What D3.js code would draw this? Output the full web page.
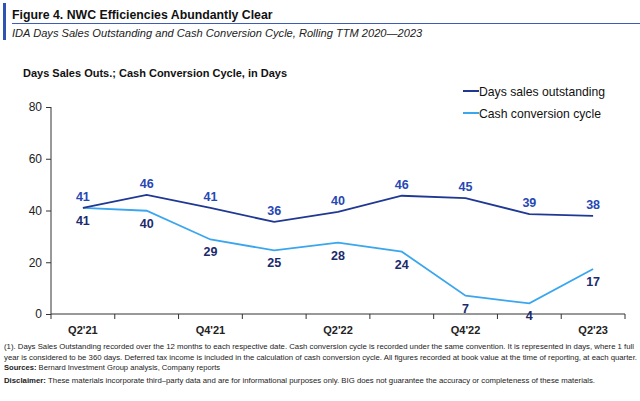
<!DOCTYPE html>
<html><head><meta charset="utf-8">
<script src="https://cdn.jsdelivr.net/npm/d3@7"></script>
<style>body{margin:0;background:#fff}svg{display:block;font-family:"Liberation Sans",Arial,sans-serif}</style>
</head><body><svg id="c" width="640" height="401"></svg>
<script>
const quarters = ["Q2'21","Q3'21","Q4'21","Q1'22","Q2'22","Q3'22","Q4'22","Q1'23","Q2'23"];
const tickLabels = ["Q2'21","Q4'21","Q2'22","Q4'22","Q2'23"];
const dso = [41, 46, 41, 35.6, 39.5, 45.7, 44.8, 38.6, 37.9];
const ccc = [41, 39.9, 28.8, 24.6, 27.6, 24.1, 7.1, 4.1, 17.4];
const yTicks = [0, 20, 40, 60, 80];
const seriesNames = ["Days sales outstanding", "Cash conversion cycle"];

const svg = d3.select("#c");
const dsoColor = "#1f3893", cccColor = "#3aa6ef";
const dsoLabel = "#2747b3", cccLabel = "#1b2a6b";

// header
svg.append("rect").attr("x",3).attr("y",3).attr("width",3).attr("height",37).attr("fill","#2f53b3");
svg.append("text").attr("x",12).attr("y",19).attr("font-size",12.3).attr("font-weight","bold").attr("fill","#111")
  .text("Figure 4. NWC Efficiencies Abundantly Clear");
svg.append("line").attr("x1",12).attr("x2",640).attr("y1",23.5).attr("y2",23.5).attr("stroke","#3b5cb8").attr("stroke-width",1.2);
svg.append("text").attr("x",12).attr("y",37).attr("font-size",11.1).attr("font-style","italic").attr("fill","#222")
  .text("IDA Days Sales Outstanding and Cash Conversion Cycle, Rolling TTM 2020\u20142023");
svg.append("text").attr("x",23).attr("y",77).attr("font-size",11).attr("font-weight","bold").attr("fill","#111")
  .text("Days Sales Outs.; Cash Conversion Cycle, in Days");

// scales
const x = d3.scaleBand().domain(quarters).range([51, 625]);
const y = d3.scaleLinear().domain([0, 80]).range([314, 107]);
const cx = d => x(d) + x.bandwidth()/2;

// y axis
const ya = svg.append("g").attr("transform","translate(51,0)")
  .call(d3.axisLeft(y).tickValues(yTicks).tickSize(5).tickPadding(4));
ya.selectAll("text").attr("font-size",12).attr("fill","#222").attr("font-family","Liberation Sans, Arial");
ya.select(".domain").attr("stroke","#333").attr("d","M0,107V314");
ya.selectAll(".tick line").attr("stroke","#333");

// x axis with ticks at band boundaries
const xa = svg.append("g").attr("transform","translate(0,314)");
xa.append("line").attr("x1",51).attr("x2",625).attr("stroke","#333");
const bounds = quarters.map(q => x(q)).concat([x(quarters[quarters.length-1]) + x.bandwidth()]);
xa.selectAll("line.t").data(bounds).enter().append("line").attr("class","t")
  .attr("x1",d=>d).attr("x2",d=>d).attr("y1",0).attr("y2",5).attr("stroke","#333");
xa.selectAll("text").data(tickLabels).enter().append("text")
  .attr("x",d=>cx(d)).attr("y",20).attr("text-anchor","middle").attr("font-size",11).attr("font-weight","bold").attr("fill","#222")
  .text(d=>d);

// lines
const line = d3.line().x((d,i)=>cx(quarters[i])).y(d=>y(d));
svg.append("path").datum(ccc).attr("d",line).attr("fill","none").attr("stroke",cccColor).attr("stroke-width",1.8);
svg.append("path").datum(dso).attr("d",line).attr("fill","none").attr("stroke",dsoColor).attr("stroke-width",1.8);

// labels
svg.selectAll("text.dl").data(dso).enter().append("text").attr("class","dl")
  .attr("x",(d,i)=>cx(quarters[i])).attr("y",d=>y(d)-7).attr("text-anchor","middle")
  .attr("font-size",12.5).attr("font-weight","bold").attr("fill",dsoLabel).text(d=>Math.round(d));
svg.selectAll("text.cl").data(ccc).enter().append("text").attr("class","cl")
  .attr("x",(d,i)=>cx(quarters[i])).attr("y",d=>y(d)+17).attr("text-anchor","middle")
  .attr("font-size",12.5).attr("font-weight","bold").attr("fill",cccLabel).text(d=>Math.round(d));

// legend
const lg = svg.append("g");
[dsoColor, cccColor].forEach((c,i)=>{
  const yy = 91 + i*22;
  lg.append("line").attr("x1",463).attr("x2",479).attr("y1",yy).attr("y2",yy).attr("stroke",c).attr("stroke-width",2);
  lg.append("text").attr("x",479).attr("y",yy+4.5).attr("font-size",12.2).attr("fill","#111").text(seriesNames[i]);
});

// footnotes
const fn = svg.append("g").attr("font-size",7.6).attr("fill","#222");
fn.append("text").attr("x",4).attr("y",349).attr("textLength",630).attr("lengthAdjust","spacingAndGlyphs")
  .text("(1). Days Sales Outstanding recorded over the 12 months to each respective date. Cash conversion cycle is recorded under the same convention. It is represented in days, where 1 full");
fn.append("text").attr("x",4).attr("y",360).attr("textLength",633).attr("lengthAdjust","spacingAndGlyphs")
  .text("year is considered to be 360 days. Deferred tax income is included in the calculation of cash conversion cycle. All figures recorded at book value at the time of reporting, at each quarter.");
const s = fn.append("text").attr("x",4).attr("y",370);
s.append("tspan").attr("font-weight","bold").text("Sources: ");
s.append("tspan").text("Bernard Investment Group analysis, Company reports");
const dsc = fn.append("text").attr("x",4).attr("y",383).attr("textLength",591).attr("lengthAdjust","spacingAndGlyphs");
dsc.append("tspan").attr("font-weight","bold").text("Disclaimer: ");
dsc.append("tspan").text("These materials incorporate third\u2013party data and are for informational purposes only. BIG does not guarantee the accuracy or completeness of these materials.");
</script></body></html>
